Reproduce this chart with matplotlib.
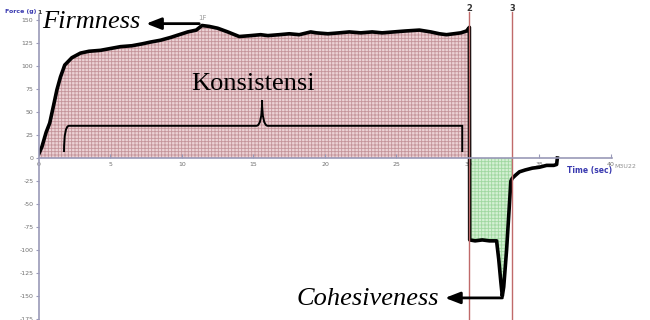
import numpy as np
import matplotlib
matplotlib.use("Agg")
import matplotlib.pyplot as plt
from matplotlib.path import Path
from matplotlib.patches import PathPatch

plt.rcParams['axes.unicode_minus'] = False
plt.rcParams['hatch.linewidth'] = 0.6

# compression part (probe going down), time in sec, force in g
t_comp = [0, 0.2, 0.5, 0.75, 1.1, 1.25, 1.5, 1.8, 2.3, 2.9, 3.5, 4.3, 5.0, 5.7,
          6.5, 7.2, 7.8, 8.5, 9.2, 9.8, 10.4, 11.0, 11.4, 11.9, 12.5, 13.2,
          14.0, 14.8, 15.5, 16.0, 16.8, 17.5, 18.2, 19.0, 19.4, 20.2, 21.0,
          21.7, 22.5, 23.3, 24.0, 24.8, 25.6, 26.6, 27.4, 28.0, 28.5, 29.0,
          29.5, 29.9, 30.1]
f_comp = [5, 12, 28, 38, 63, 74, 88, 101, 109, 114, 116, 117, 119, 121,
          122, 124, 126, 128, 131, 134, 137, 139, 144, 143, 141, 137,
          132, 133, 134, 133, 134, 135, 134, 137, 136, 135, 136,
          137, 136, 137, 136, 137, 138, 139, 137, 135, 134, 135,
          136, 138, 142]

# withdrawal part (probe going up)
t_ret = [30.1, 30.12, 30.5, 31.0, 31.5, 32.0, 32.15, 32.3, 32.4, 32.5, 32.7,
         32.9, 33.0, 33.1, 33.3, 33.6, 34.0, 34.5, 35.0, 35.5, 36.0, 36.2, 36.25]
f_ret = [142, -89, -90, -89, -90, -90, -110, -135, -150, -140, -100,
         -50, -25, -22, -19, -15, -13, -11, -10, -8, -8, -7, 0]

marker_t = [30.1, 33.1]
marker_lbl = ['2', '3']
peak_t, peak_f = 11.4, 144

fig = plt.figure(figsize=(6.5, 3.2), dpi=100)
ax = fig.add_axes([39/650, 0.0, 573.4/650, 0.952])

tc = np.array(t_comp)
fc = np.array(f_comp)
tr = np.array(t_ret)
fr = np.array(f_ret)

ax.fill_between(tc, 0, fc, facecolor='#ecd2d5', edgecolor='#c4949a',
                hatch='+++++', linewidth=0)
m = (tr >= 30.1) & (tr <= 33.1) & (fr < 0)
ax.fill_between(tr[m], 0, fr[m], facecolor='#d4f0d4', edgecolor='#a0d8a0',
                hatch='+++++', linewidth=0)

ax.plot(np.concatenate([tc, tr]), np.concatenate([fc, fr]),
        color='black', lw=2.6, solid_joinstyle='round')

for t, lbl in zip(marker_t, marker_lbl):
    ax.axvline(t, color='#c06a6a', lw=1.0, ymax=1.01, clip_on=False)
    ax.text(t, 158, lbl, ha='center', va='bottom', fontsize=6,
            fontweight='bold', color='#333333', clip_on=False)
ax.text(peak_t, 149, '1F', ha='center', va='bottom', fontsize=5,
        color='#a0a0a0')

ax.set_xlim(0, 40.1)
ax.set_ylim(-176, 155)
for s in ['top', 'right']:
    ax.spines[s].set_visible(False)
ax.spines['bottom'].set_position(('data', 0))
ax.spines['bottom'].set_color('#9a9ab8')
ax.spines['left'].set_color('#9a9ab8')
ax.spines['bottom'].set_linewidth(1.2)
ax.spines['left'].set_linewidth(1.2)
ax.set_xticks(np.arange(0, 41, 5))
ax.set_yticks(np.arange(-175, 151, 25))
ax.tick_params(axis='x', direction='in', length=3, color='#9a9ab8',
               labelsize=4.5, labelcolor='#707070', pad=3)
ax.tick_params(axis='y', direction='out', length=2, color='#9a9ab8',
               labelsize=4.5, labelcolor='#707070', pad=2)

ax.text(38.5, -14, 'Time (sec)', fontsize=5.5, color='#3a3ab0',
        fontweight='bold', ha='center', va='center')
fig.text(625/650, 1 - 166/320, 'M3U22', fontsize=4.5, color='#909090',
         ha='center', va='center')
fig.text(5/650, 1 - 12/320, 'Force (g)', fontsize=4.5, color='#3a3ab0',
         fontweight='bold', ha='left', va='center')
fig.text(37/650, 1 - 12/320, '1', fontsize=4.5, color='#333333',
         fontweight='bold', ha='left', va='center')

# annotations
ax.annotate('', xy=(7.3, 146), xytext=(peak_t, 146),
            arrowprops=dict(arrowstyle='-|>,head_length=0.9,head_width=0.35',
                            color='black', lw=2))
ax.text(0.2, 148, 'Firmness', fontsize=19, fontstyle='italic',
        family='Liberation Serif', ha='left', va='center', clip_on=False)
ax.text(15.0, 80, 'Konsistensi', fontsize=19, family='Liberation Serif',
        ha='center', va='center')
ax.annotate('', xy=(28.2, -152), xytext=(32.6, -152),
            arrowprops=dict(arrowstyle='-|>,head_length=0.9,head_width=0.35',
                            color='black', lw=2))
ax.text(28.0, -153, 'Cohesiveness', fontsize=19, fontstyle='italic',
        family='Liberation Serif', ha='right', va='center')

# curly brace
verts = [(1.75, 6.5), (1.75, 35), (2.1, 35), (2.4, 35),
         (15.2, 35), (15.6, 35), (15.6, 63), (15.6, 35), (16.0, 35),
         (29.0, 35), (29.3, 35), (29.6, 35), (29.6, 6.5)]
codes = [Path.MOVETO, Path.CURVE3, Path.CURVE3, Path.LINETO,
         Path.LINETO, Path.CURVE3, Path.CURVE3, Path.CURVE3, Path.CURVE3,
         Path.LINETO, Path.CURVE3, Path.CURVE3, Path.LINETO]
ax.add_patch(PathPatch(Path(verts, codes), fill=False, lw=1.4,
                       edgecolor='black'))

fig.savefig('out.png', dpi=100)
